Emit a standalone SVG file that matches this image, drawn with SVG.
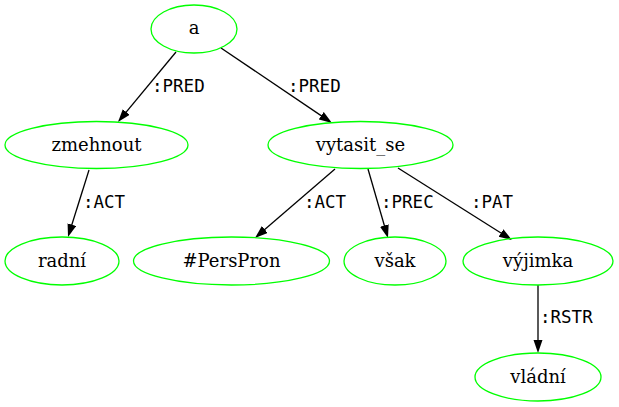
<svg xmlns="http://www.w3.org/2000/svg" width="619" height="407" viewBox="0 0 619 407">
<style>
.node ellipse{fill:none;stroke:#00ff00;stroke-width:1.3}
.node text{font-family:"DejaVu Serif",serif;font-size:18px;text-anchor:middle;fill:#000}
.edge line{stroke:#000;stroke-width:1.3;marker-end:url(#arr)}
.edge text{font-family:"DejaVu Sans Mono",monospace;font-size:17.5px;fill:#000}
</style>
<defs>
<marker id="arr" markerUnits="userSpaceOnUse" markerWidth="14" markerHeight="10" refX="7" refY="4.5" orient="auto" viewBox="0 0 14 10">
<path d="M0,0 L13,4.5 L0,9 z" fill="#000"/>
</marker>
</defs>
<rect width="619" height="407" fill="#fff"/>
<g id="edges">
<g class="edge" id="e1"><line x1="176" y1="52" x2="121.8" y2="117.4"/><text x="152" y="92">:PRED</text></g>
<g class="edge" id="e2"><line x1="221" y1="48" x2="327" y2="119.6"/><text x="288" y="92">:PRED</text></g>
<g class="edge" id="e3"><line x1="89" y1="170" x2="69.8" y2="231.3"/><text x="83" y="208">:ACT</text></g>
<g class="edge" id="e4"><line x1="335" y1="169" x2="259.5" y2="234.1"/><text x="304" y="208">:ACT</text></g>
<g class="edge" id="e5"><line x1="368" y1="169" x2="386.3" y2="232.2"/><text x="381" y="208">:PREC</text></g>
<g class="edge" id="e6"><line x1="398" y1="168" x2="506.9" y2="236.8"/><text x="471" y="208">:PAT</text></g>
<g class="edge" id="e7"><line x1="538" y1="285" x2="538" y2="347"/><text x="540" y="323">:RSTR</text></g>
</g>
<g class="node" id="n_a"><ellipse cx="194" cy="29" rx="43" ry="24"/><text x="194" y="34">a</text></g>
<g class="node" id="n_zmehnout"><ellipse cx="96.5" cy="145" rx="91.5" ry="23.5"/><text x="96.5" y="150.5">zmehnout</text></g>
<g class="node" id="n_vytasit_se"><ellipse cx="360.5" cy="145" rx="92.5" ry="23.5"/><text x="360.5" y="150.5">vytasit_se</text></g>
<g class="node" id="n_radni"><ellipse cx="62" cy="261" rx="57" ry="24"/><text x="62" y="266.5">radní</text></g>
<g class="node" id="n_perspron"><ellipse cx="231.5" cy="261" rx="98" ry="24"/><text x="231.5" y="266.5">#PersPron</text></g>
<g class="node" id="n_vsak"><ellipse cx="395" cy="261" rx="51" ry="24"/><text x="395" y="266.5">však</text></g>
<g class="node" id="n_vyjimka"><ellipse cx="538" cy="261" rx="75" ry="24"/><text x="538" y="266.5">výjimka</text></g>
<g class="node" id="n_vladni"><ellipse cx="538" cy="377" rx="63" ry="24"/><text x="538" y="382.5">vládní</text></g>
</svg>
